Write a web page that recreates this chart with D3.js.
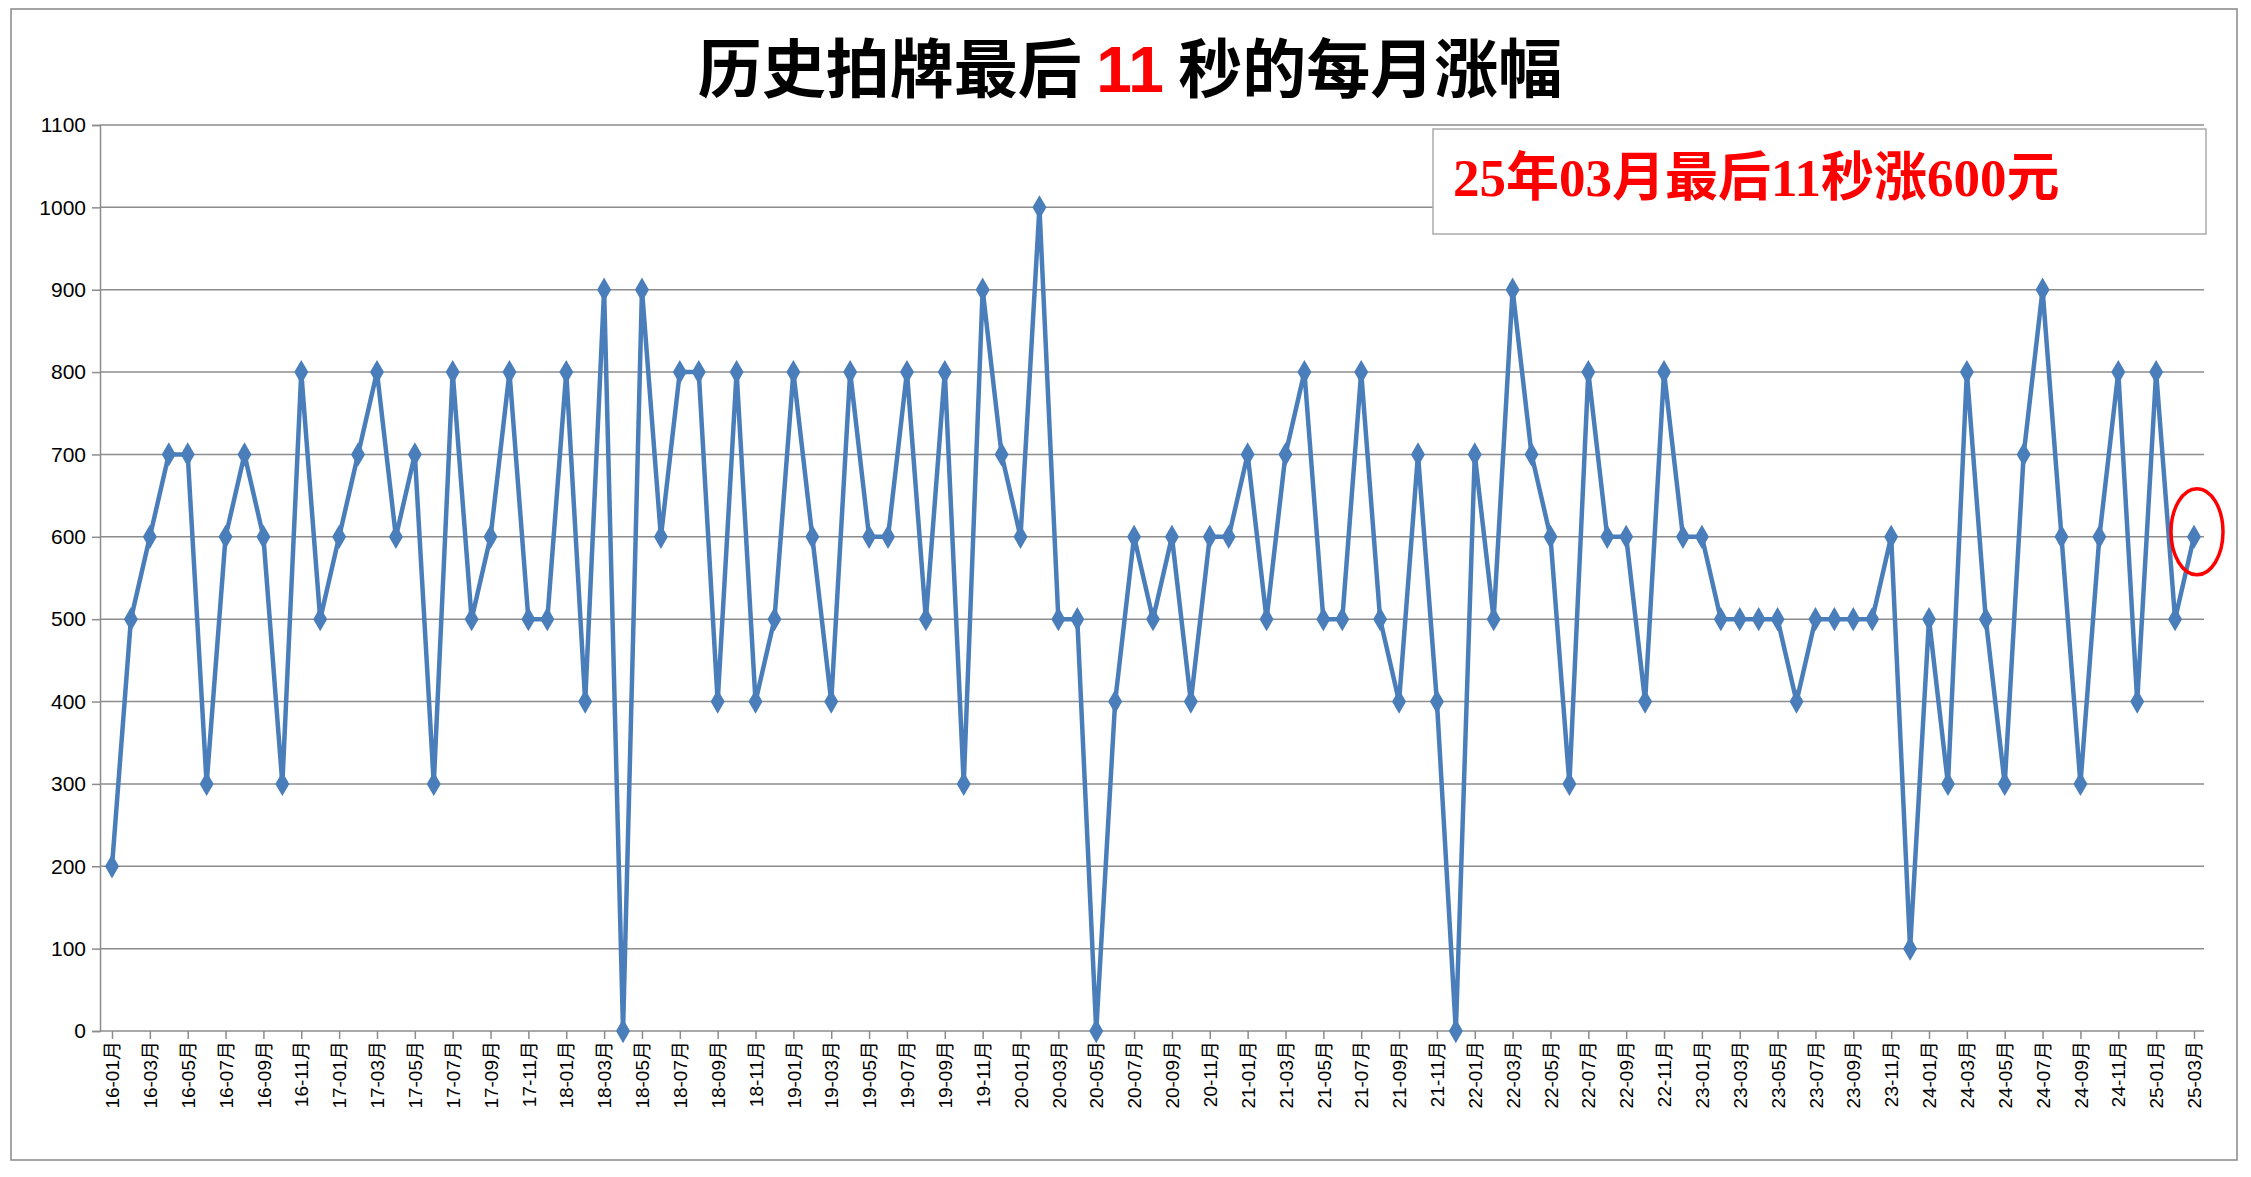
<!DOCTYPE html>
<html><head><meta charset="utf-8">
<script src="https://cdn.jsdelivr.net/npm/d3@7"></script>
<style>body{margin:0;background:#fff}</style></head>
<body><svg id="c" width="2251" height="1177"></svg>
<script>
const years = ["16","17","18","19","20","21","22","23","24","25"];
const categories = [];
years.forEach(y=>{for(let m=1;m<=12;m++){if(y==="25"&&m>3)break;categories.push(y+"-"+String(m).padStart(2,"0")+"月");}});
const values = [200,500,600,700,700,300,600,700,600,300,800,500,
600,700,800,600,700,300,800,500,600,800,500,500,
800,400,900,0,900,600,800,800,400,800,400,500,
800,600,400,800,600,600,800,500,800,300,900,700,
600,1000,500,500,0,400,600,500,600,400,600,600,
700,500,700,800,500,500,800,500,400,700,400,0,
700,500,900,700,600,300,800,600,600,400,800,600,
600,500,500,500,500,400,500,500,500,500,600,100,
500,300,800,500,300,700,900,600,300,600,800,400,
800,500,600];
const yTicks = [0,100,200,300,400,500,600,700,800,900,1000,1100];
const noteText = "25年03月最后11秒涨600元";

const svg = d3.select("#c");
svg.append("rect").attr("x",11).attr("y",9).attr("width",2226).attr("height",1151).attr("fill","#fff").attr("stroke","#888").attr("stroke-width",1.5);
const L=100,R=2204,T=125,B=1031;
const x = d3.scalePoint().domain(categories).range([L+12,R-10]);
const y = d3.scaleLinear().domain([0,1100]).range([B,T]);
svg.append("g").selectAll("line").data(yTicks.slice(1)).join("line")
 .attr("x1",L).attr("x2",R).attr("y1",d=>y(d)).attr("y2",d=>y(d)).attr("stroke","#8c8c8c").attr("stroke-width",1.5);
const ya = svg.append("g").attr("transform",`translate(${L},0)`).call(d3.axisLeft(y).tickValues(yTicks).tickFormat(d3.format("d")).tickSize(8).tickPadding(6));
ya.selectAll("text").attr("font-family","Liberation Sans, Arial").attr("font-size",21).attr("fill","#000");
ya.selectAll("line,path").attr("stroke","#8c8c8c").attr("stroke-width",1.5);
const xa = svg.append("g").attr("transform",`translate(0,${B})`).call(d3.axisBottom(x).tickValues(categories.filter((d,i)=>i%2===0)).tickSize(8).tickSizeOuter(0));
xa.select("path").attr("d",`M${L},0H${R}`);
xa.selectAll("line,path").attr("stroke","#8c8c8c").attr("stroke-width",1.5);
xa.selectAll("text").attr("font-family","Liberation Sans, 'Noto Sans CJK SC'").attr("font-size",19).attr("fill","#000")
 .attr("transform","rotate(-90)").attr("text-anchor","end").attr("dx","-10").attr("dy","0.35em").attr("y",0).attr("x",0);
svg.append("path").datum(values).attr("fill","none").attr("stroke","#4a7ebb").attr("stroke-width",4.5)
 .attr("d",d3.line().x((d,i)=>x(categories[i])).y(d=>y(d)));
svg.append("g").selectAll("path").data(values).join("path")
 .attr("d",d3.symbol(d3.symbolDiamond,170)())
 .attr("transform",(d,i)=>`translate(${x(categories[i])},${y(d)})`).attr("fill","#4a7ebb");
const t = svg.append("text").attr("x",1130).attr("y",92).attr("text-anchor","middle")
 .attr("font-family","'Noto Sans CJK SC'").attr("font-weight","bold").attr("font-size",64);
t.append("tspan").text("历史拍牌最后 ");
t.append("tspan").attr("fill","#ff0000").attr("font-family","Liberation Sans").text("11");
t.append("tspan").text(" 秒的每月涨幅");
svg.append("rect").attr("x",1433).attr("y",129).attr("width",773).attr("height",105).attr("fill","#fff").attr("stroke","#aaa").attr("stroke-width",1.5);
svg.append("text").attr("x",1453).attr("y",196).attr("fill","#ff0000").attr("font-size",53)
 .attr("font-family","'Liberation Serif','Noto Sans CJK SC'").attr("font-weight","bold").text(noteText);
svg.append("ellipse").attr("cx",x(categories[categories.length-1])+3).attr("cy",y(values[values.length-1])-5)
 .attr("rx",26).attr("ry",43).attr("fill","none").attr("stroke","#ff0000").attr("stroke-width",3.5);
</script></body></html>
